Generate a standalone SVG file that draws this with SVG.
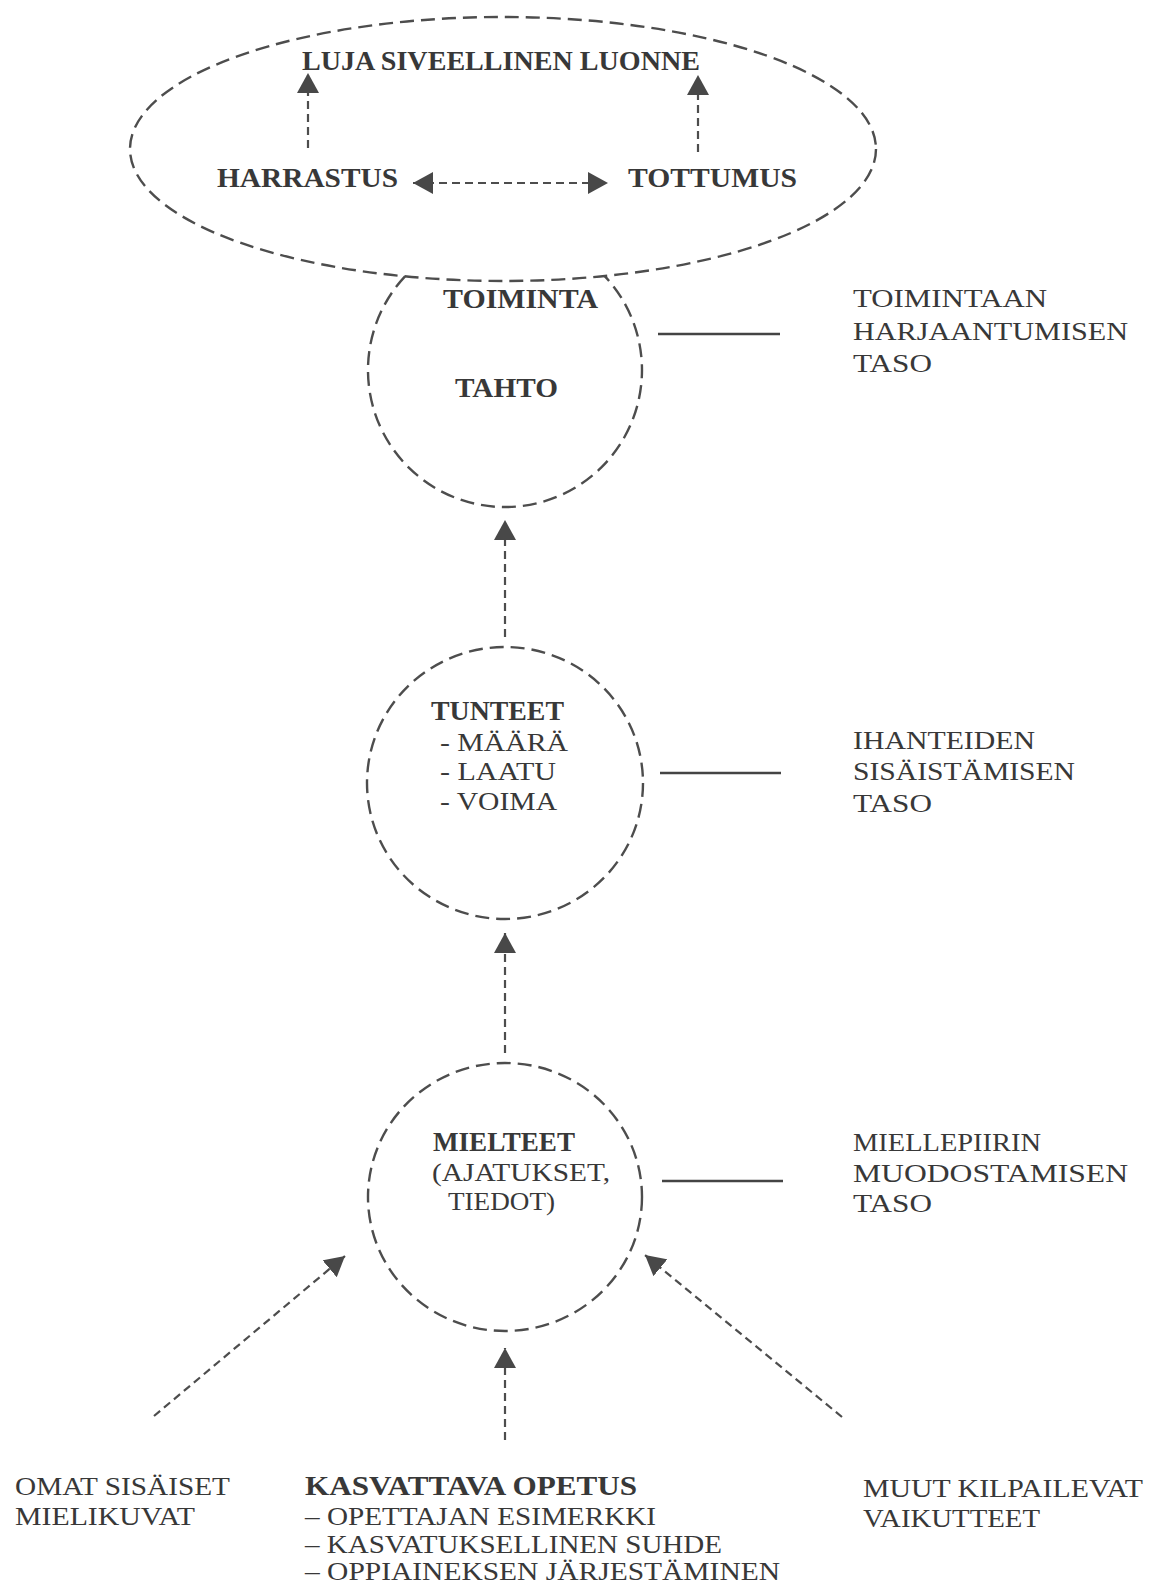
<svg xmlns="http://www.w3.org/2000/svg" width="1154" height="1590" viewBox="0 0 1154 1590">
  <defs>
    <marker id="head" viewBox="0 0 20 22" refX="20" refY="11" markerWidth="20" markerHeight="22" markerUnits="userSpaceOnUse" orient="auto-start-reverse">
      <path d="M0,0 L20,11 L0,22 z" fill="#484848"/>
    </marker>
  </defs>
  <style>
    .outline { fill: none; stroke: #4d4d4d; stroke-width: 2.4; stroke-dasharray: 14 7; }
    .flow { fill: none; stroke: #4d4d4d; stroke-width: 2.2; stroke-dasharray: 8 5; marker-end: url(#head); }
    .both { marker-start: url(#head); }
    .tie { stroke: #444; stroke-width: 2.3; }
    text { font-family: "Liberation Serif", "Times New Roman", serif; fill: #383838; }
    .b { font-weight: bold; font-size: 28px; }
    .r { font-size: 26px; }
  </style>
  <rect width="1154" height="1590" fill="#fff"/>

  <!-- character: interest and habit -->
  <g id="luonne">
    <ellipse class="outline" cx="503" cy="149" rx="373" ry="132"/>
    <text class="b" x="302" y="70" textLength="398" lengthAdjust="spacingAndGlyphs">LUJA SIVEELLINEN LUONNE</text>
    <text class="b" x="217" y="187" textLength="181" lengthAdjust="spacingAndGlyphs">HARRASTUS</text>
    <text class="b" x="628" y="187" textLength="169" lengthAdjust="spacingAndGlyphs">TOTTUMUS</text>
  </g>

  <!-- will / action -->
  <g id="tahto">
    <path class="outline" d="M405,276.4 A137,137 0 1 0 604.5,275.9"/>
    <text class="b" x="443" y="308" textLength="155" lengthAdjust="spacingAndGlyphs">TOIMINTA</text>
    <text class="b" x="455" y="397" textLength="103" lengthAdjust="spacingAndGlyphs">TAHTO</text>
  </g>

  <!-- feelings -->
  <g id="tunteet">
    <ellipse class="outline" cx="505" cy="783" rx="138" ry="136"/>
    <text class="b" x="431" y="720" textLength="133" lengthAdjust="spacingAndGlyphs">TUNTEET</text>
    <text class="r" x="440" y="751" textLength="128" lengthAdjust="spacingAndGlyphs">- MÄÄRÄ</text>
    <text class="r" x="440" y="780" textLength="116" lengthAdjust="spacingAndGlyphs">- LAATU</text>
    <text class="r" x="440" y="810" textLength="117" lengthAdjust="spacingAndGlyphs">- VOIMA</text>
  </g>

  <!-- ideas -->
  <g id="mielteet">
    <ellipse class="outline" cx="505" cy="1197" rx="137" ry="134"/>
    <text class="b" x="433" y="1151" textLength="142" lengthAdjust="spacingAndGlyphs">MIELTEET</text>
    <text class="r" x="432" y="1181" textLength="178" lengthAdjust="spacingAndGlyphs">(AJATUKSET,</text>
    <text class="r" x="448" y="1210" textLength="107" lengthAdjust="spacingAndGlyphs">TIEDOT)</text>
  </g>

  <!-- levels -->
  <g id="taso-toiminta">
    <text class="r" x="853" y="307" textLength="194" lengthAdjust="spacingAndGlyphs">TOIMINTAAN</text>
    <text class="r" x="853" y="340" textLength="275" lengthAdjust="spacingAndGlyphs">HARJAANTUMISEN</text>
    <text class="r" x="853" y="372" textLength="79" lengthAdjust="spacingAndGlyphs">TASO</text>
  </g>
  <g id="taso-ihanteet">
    <text class="r" x="853" y="749" textLength="182" lengthAdjust="spacingAndGlyphs">IHANTEIDEN</text>
    <text class="r" x="853" y="780" textLength="222" lengthAdjust="spacingAndGlyphs">SISÄISTÄMISEN</text>
    <text class="r" x="853" y="812" textLength="79" lengthAdjust="spacingAndGlyphs">TASO</text>
  </g>
  <g id="taso-miellepiiri">
    <text class="r" x="853" y="1151" textLength="188" lengthAdjust="spacingAndGlyphs">MIELLEPIIRIN</text>
    <text class="r" x="853" y="1182" textLength="275" lengthAdjust="spacingAndGlyphs">MUODOSTAMISEN</text>
    <text class="r" x="853" y="1212" textLength="79" lengthAdjust="spacingAndGlyphs">TASO</text>
  </g>

  <!-- sources -->
  <g id="omat">
    <text class="r" x="15" y="1495" textLength="215" lengthAdjust="spacingAndGlyphs">OMAT SISÄISET</text>
    <text class="r" x="15" y="1525" textLength="180" lengthAdjust="spacingAndGlyphs">MIELIKUVAT</text>
  </g>
  <g id="kasvattava">
    <text class="b" x="305" y="1495" textLength="332" lengthAdjust="spacingAndGlyphs">KASVATTAVA OPETUS</text>
    <text class="r" x="305" y="1525" textLength="351" lengthAdjust="spacingAndGlyphs">– OPETTAJAN ESIMERKKI</text>
    <text class="r" x="305" y="1553" textLength="417" lengthAdjust="spacingAndGlyphs">– KASVATUKSELLINEN SUHDE</text>
    <text class="r" x="305" y="1580" textLength="475" lengthAdjust="spacingAndGlyphs">– OPPIAINEKSEN JÄRJESTÄMINEN</text>
  </g>
  <g id="muut">
    <text class="r" x="863" y="1497" textLength="280" lengthAdjust="spacingAndGlyphs">MUUT KILPAILEVAT</text>
    <text class="r" x="863" y="1527" textLength="177" lengthAdjust="spacingAndGlyphs">VAIKUTTEET</text>
  </g>

  <!-- connectors -->
  <g id="connectors">
    <line class="flow" x1="308" y1="148" x2="308" y2="73"/>
    <line class="flow" x1="698" y1="152" x2="698" y2="75"/>
    <line class="flow both" x1="413" y1="183" x2="608" y2="183"/>
    <line class="flow" x1="505" y1="637" x2="505" y2="520"/>
    <line class="flow" x1="505" y1="1053" x2="505" y2="933"/>
    <line class="flow" x1="154" y1="1416" x2="345" y2="1256"/>
    <line class="flow" x1="842" y1="1417" x2="645" y2="1255"/>
    <line class="flow" x1="505" y1="1440" x2="505" y2="1348"/>
    <line class="tie" x1="658" y1="334" x2="780" y2="334"/>
    <line class="tie" x1="660" y1="773" x2="781" y2="773"/>
    <line class="tie" x1="662" y1="1181" x2="783" y2="1181"/>
  </g>
</svg>
